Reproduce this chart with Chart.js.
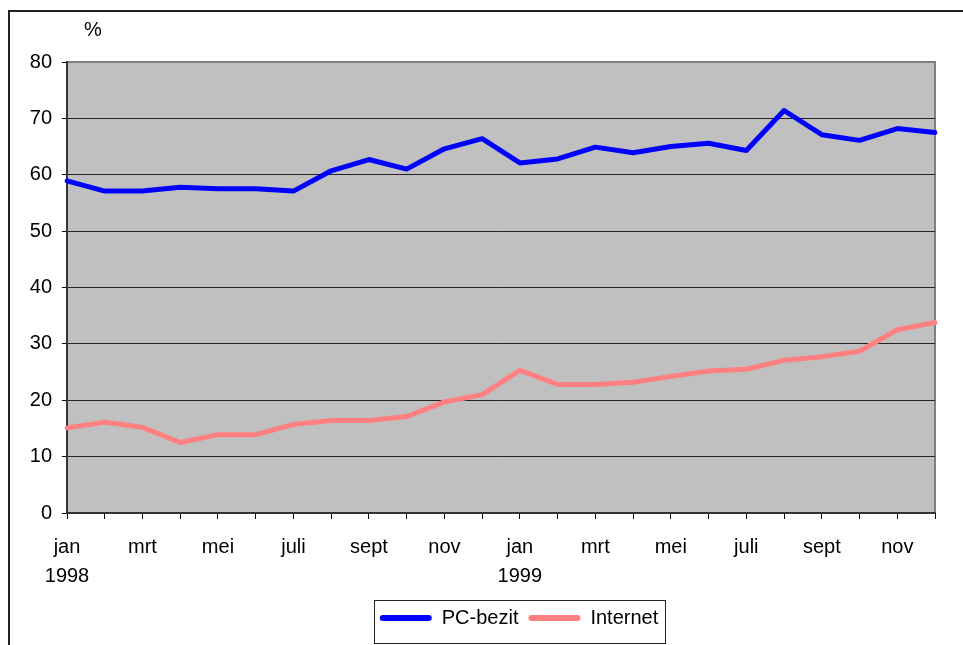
<!DOCTYPE html>
<html>
<head>
<meta charset="utf-8">
<script src="https://cdn.jsdelivr.net/npm/chart.js@4.4.0/dist/chart.umd.min.js"></script>
<style>
html, body { margin: 0; padding: 0; background: #fff; overflow: hidden; }
#frame { position: absolute; left: 8px; top: 10px; width: 2000px; height: 1000px; border-top: 2px solid #222; border-left: 2px solid #222; }
#graph { position: absolute; left: 0; top: 0; }
</style>
</head>
<body>
<div id="frame"></div>
<canvas id="graph" width="1038" height="645" style="width:1038px;height:645px"></canvas>
<script>
// maanden jan 1998 t/m dec 1999
var months = ['jan', 'feb', 'mrt', 'apr', 'mei', 'juni', 'juli', 'aug', 'sept', 'okt', 'nov', 'dec',
              'jan', 'feb', 'mrt', 'apr', 'mei', 'juni', 'juli', 'aug', 'sept', 'okt', 'nov', 'dec'];
var years = ['1998', '', '', '', '', '', '', '', '', '', '', '',
             '1999', '', '', '', '', '', '', '', '', '', '', ''];
var pcBezit = [58.9, 57.1, 57.1, 57.8, 57.5, 57.5, 57.1, 60.7, 62.7, 61.0, 64.6, 66.4,
               62.1, 62.8, 64.9, 63.9, 65.0, 65.6, 64.3, 71.4, 67.1, 66.1, 68.2, 67.5];
var internet = [15.1, 16.1, 15.2, 12.5, 13.9, 13.9, 15.7, 16.4, 16.4, 17.1, 19.7, 21.0,
                25.3, 22.8, 22.8, 23.2, 24.2, 25.2, 25.5, 27.1, 27.7, 28.7, 32.5, 33.8];
var yTicks = [0, 10, 20, 30, 40, 50, 60, 70, 80];

var fontFamily = "'Liberation Sans', Arial, sans-serif";

var plotBackground = {
    id: 'plotBackground',
    beforeDraw: function (chart) {
        var a = chart.chartArea, ctx = chart.ctx;
        ctx.save();
        ctx.fillStyle = '#c0c0c0';
        ctx.fillRect(a.left, a.top, a.right - a.left, a.bottom - a.top);
        ctx.strokeStyle = '#808080';
        ctx.lineWidth = 2;
        ctx.strokeRect(a.left, a.top, a.right - a.left, a.bottom - a.top);
        ctx.restore();
    },
    afterDraw: function (chart) {
        var ctx = chart.ctx, a = chart.chartArea;
        ctx.save();
        // eenheid boven de y-as
        ctx.font = '20px ' + fontFamily;
        ctx.fillStyle = '#000';
        ctx.textAlign = 'center';
        ctx.textBaseline = 'middle';
        ctx.fillText('%', a.left + 26, a.top - 32);
        // kader om de legenda
        var boxes = chart.legend.legendHitBoxes;
        if (boxes && boxes.length) {
            var first = boxes[0], last = boxes[boxes.length - 1];
            var l = first.left - 6, r = last.left + last.width + 6;
            var t = first.top - 8, b = first.top + first.height + 15;
            ctx.strokeStyle = '#222';
            ctx.lineWidth = 1;
            ctx.strokeRect(Math.round(l) + 0.5, Math.round(t) + 0.5, Math.round(r - l), Math.round(b - t));
        }
        ctx.restore();
    }
};

var canvas = document.querySelector('#graph');
var context = canvas.getContext('2d');

var data = {
    labels: months,
    datasets: [
        {
            label: 'PC-bezit',
            data: pcBezit,
            borderColor: '#0000ff',
            backgroundColor: '#0000ff',
            borderWidth: 5,
            pointRadius: 0,
            tension: 0,
            borderJoinStyle: 'round',
            borderCapStyle: 'round'
        },
        {
            label: 'Internet',
            data: internet,
            borderColor: '#ff8080',
            backgroundColor: '#ff8080',
            borderWidth: 5,
            pointRadius: 0,
            tension: 0,
            borderJoinStyle: 'round',
            borderCapStyle: 'round'
        }
    ]
};

var options = {
    responsive: false,
    animation: false,
    layout: { padding: { top: 62, bottom: 7, left: 0, right: 0 } },
    plugins: {
        tooltip: { enabled: false },
        legend: {
            position: 'bottom',
            labels: {
                color: '#000',
                font: { family: fontFamily, size: 20 },
                boxWidth: 52,
                boxHeight: 6,
                padding: 10,
                generateLabels: function (chart) {
                    var items = Chart.defaults.plugins.legend.labels.generateLabels(chart);
                    items.forEach(function (it) {
                        it.fillStyle = it.strokeStyle;
                        it.lineWidth = 0;
                        it.borderRadius = 3;
                    });
                    return items;
                }
            }
        }
    },
    scales: {
        x: {
            offset: false,
            grid: { drawOnChartArea: false, drawTicks: true, tickLength: 6, color: '#000', offset: false },
            border: { color: '#333', width: 2 },
            ticks: {
                autoSkip: false,
                maxRotation: 0,
                minRotation: 0,
                padding: 14,
                color: '#000',
                font: { family: fontFamily, size: 20, lineHeight: 1.45 },
                callback: function (value, index) {
                    if (index % 2 !== 0) return '';
                    return years[index] ? [months[index], years[index]] : months[index];
                }
            },
            afterFit: function (scale) { scale.height = 85; }
        },
        y: {
            min: 0,
            max: 80,
            afterBuildTicks: function (scale) {
                scale.ticks = yTicks.map(function (v) { return { value: v }; });
            },
            grid: {
                color: function (ctx) { return ctx.tick && ctx.tick.value === 80 ? 'rgba(0,0,0,0)' : '#222'; },
                tickColor: '#000',
                tickLength: 5,
                lineWidth: 1
            },
            border: { color: '#333', width: 2 },
            ticks: {
                padding: 10,
                color: '#000',
                font: { family: fontFamily, size: 20 }
            },
            afterFit: function (scale) { scale.width = 67; }
        },
        y2: {
            position: 'right',
            display: true,
            grid: { display: false },
            border: { display: false },
            ticks: { display: false },
            afterFit: function (scale) { scale.width = 103; }
        }
    }
};

var myLineChart = new Chart(context, {
    type: 'line',
    data: data,
    options: options,
    plugins: [plotBackground]
});
</script>
</body>
</html>
